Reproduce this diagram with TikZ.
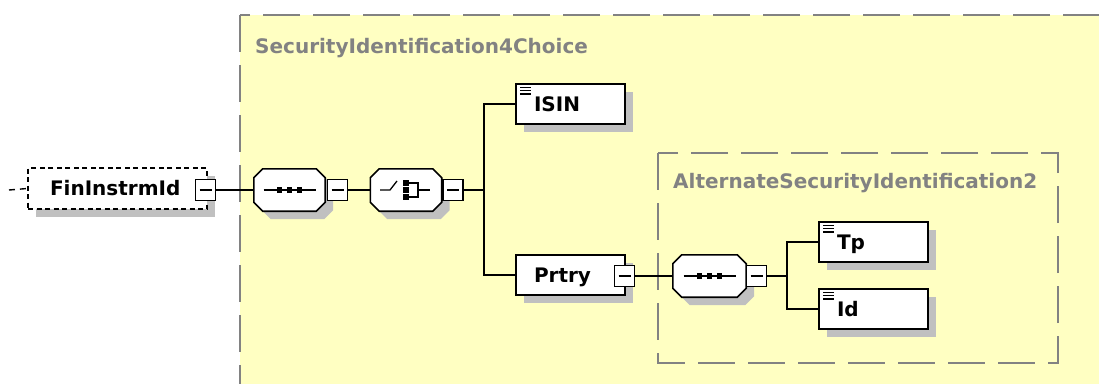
\documentclass[tikz,border=0pt]{standalone}
\usepackage{fontspec}
\setmainfont{DejaVu Sans}
\usetikzlibrary{shadows,positioning}

\definecolor{xsdyellow}{RGB}{255,255,194}
\definecolor{xsdgray}{RGB}{130,130,130}
\definecolor{xsdshadow}{RGB}{192,192,192}

% octagon outline round a node, shifted by (#2,#3)
\newcommand{\octpath}[3]{([shift={(#2+9pt,#3)}]#1.north west) -- ([shift={(#2-9pt,#3)}]#1.north east)
  -- ([shift={(#2,#3-9pt)}]#1.north east) -- ([shift={(#2,#3+9pt)}]#1.south east)
  -- ([shift={(#2-9pt,#3)}]#1.south east) -- ([shift={(#2+9pt,#3)}]#1.south west)
  -- ([shift={(#2,#3+9pt)}]#1.south west) -- ([shift={(#2,#3-9pt)}]#1.north west) -- cycle}
\newcommand{\xsdoct}[1]{%
  \fill[xsdshadow] \octpath{#1}{8pt}{-8pt};
  \draw[line width=1.6pt,fill=white,draw=black] \octpath{#1}{0pt}{0pt};}
\newcommand{\seqicon}[1]{%
  \draw[line width=1.3pt,draw=black] ([xshift=-26pt]#1.center) -- ([xshift=26pt]#1.center);
  \foreach \d in {-10,0,10}
    \fill[black] ([shift={(\d pt-2.8pt,-2.8pt)}]#1.center) rectangle ([shift={(\d pt+2.8pt,2.8pt)}]#1.center);}
\newcommand{\choiceicon}[1]{%
  \draw[line width=1.3pt,draw=black] ([xshift=-26pt]#1.center) -- ([xshift=-16pt]#1.center)
    -- ([shift={(-9pt,9pt)}]#1.center);
  \foreach \d in {-7,0,7}
    \fill[black] ([shift={(-2.6pt,\d pt-2.6pt)}]#1.center) rectangle ([shift={(2.6pt,\d pt+2.6pt)}]#1.center);
  \draw[line width=1.3pt,draw=black] ([shift={(2pt,7pt)}]#1.center) -- ([shift={(12pt,7pt)}]#1.center)
    -- ([shift={(12pt,-7pt)}]#1.center) -- ([shift={(2pt,-7pt)}]#1.center);
  \draw[line width=1.3pt,draw=black] ([xshift=12pt]#1.center) -- ([xshift=24pt]#1.center);}

\tikzset{
  xsdshade/.style={general shadow={fill=xsdshadow,shadow xshift=8pt,shadow yshift=-8pt}},
  elembox/.style={draw,fill=white,line width=1.6pt,xsdshade,minimum height=40pt,
    text width=73pt,inner xsep=18pt,inner ysep=0pt,align=left,
    text height=14pt,text depth=0pt,font=\bfseries\fontsize{20}{24}\selectfont},
  simplebox/.style={elembox,path picture={
    \foreach \k in {3.3,6.7,10}
      \draw[line width=1.3pt,draw=black] ([shift={(4pt,-\k pt)}]path picture bounding box.north west) -- ++(11pt,0);}},
  rootbox/.style={elembox,dash pattern=on 5pt off 3.5pt,line width=1.4pt,
    text width=135pt,inner xsep=22pt,minimum height=41pt},
  minusbox/.style={draw,fill=white,line width=1.4pt,minimum width=20pt,minimum height=21pt,
    inner sep=0pt,path picture={
    \draw[line width=1.3pt,draw=black] ([xshift=4pt]path picture bounding box.west) -- ([xshift=-4pt]path picture bounding box.east);}},
  octbox/.style={rectangle,minimum width=71pt,minimum height=42pt,inner sep=0pt,
    append after command={\pgfextra{\xsdoct{\tikzlastnode}}}},
  seqbox/.style={octbox,append after command={\pgfextra{\seqicon{\tikzlastnode}}}},
  choicebox/.style={octbox,append after command={\pgfextra{\choiceicon{\tikzlastnode}}}},
  groupframe/.style={draw=xsdgray,line width=1.8pt,dash pattern=on 37pt off 13pt},
  grouplabel/.style={anchor=base west,inner sep=0pt,text=xsdgray,font=\bfseries\fontsize{20}{24}\selectfont},
  link/.style={line width=1.4pt}
}

\begin{document}
\begin{tikzpicture}[x=1pt,y=-1pt]
\useasboundingbox (0,0) rectangle (1099,383);
\clip (0,0) rectangle (1099,383);

% group frames
\draw[groupframe,fill=xsdyellow] (240,15) rectangle (1140,420);
\node[grouplabel] (grpa) at (255,53) {SecurityIdentification4Choice};
\draw[groupframe] (658,153) rectangle (1058,363);
\node[grouplabel] (grpb) at (673,188) {AlternateSecurityIdentification2};

% root element
\node[rootbox] (fin) at (117.5,188.5) {FinInstrmId};
\node[minusbox] (finx) at (205.5,190) {};
\coordinate (finin) at (9,190);

% compositors
\node[seqbox] (seqa) at (289.5,190) {};
\node[minusbox] (seqax) at (337.5,190) {};
\node[choicebox] (choice) at (406,190) {};
\node[minusbox] (choicex) at (453,190) {};
\coordinate (jc) at (484,190);

% children
\node[simplebox] (isin) at (570.5,104) {ISIN};
\node[elembox] (prtry) at (570.5,275) {Prtry};
\node[minusbox] (prtryx) at (624.5,276) {};
\node[seqbox,minimum width=73pt] (seqb) at (709.5,276) {};
\node[minusbox] (seqbx) at (756.5,276) {};
\coordinate (jb) at (787,276);
\node[simplebox] (tp) at (873.5,242) {Tp};
\node[simplebox] (id) at (873.5,309) {Id};

% links
\draw[link,dash pattern=on 6pt off 5pt] (finin) -- (fin.west);
\draw[link] (finx.east) -- (seqa.west);
\draw[link] (seqax.east) -- (choice.west);
\draw[link] (choicex.east) -- (jc);
\draw[link] (isin.west) -| (jc) |- (prtry.west);
\draw[link] (prtryx.east) -- (seqb.west);
\draw[link] (seqbx.east) -- (jb);
\draw[link] (tp.west) -| (jb) |- (id.west);
\end{tikzpicture}
\end{document}
